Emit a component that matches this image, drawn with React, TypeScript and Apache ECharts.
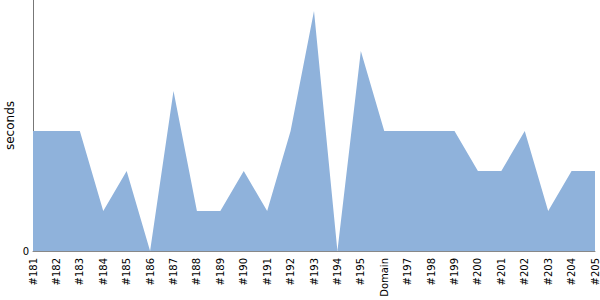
import React, { useEffect, useRef } from "react";
import * as echarts from "echarts";

const categories = ["#181","#182","#183","#184","#185","#186","#187","#188","#189","#190","#191","#192","#193","#194","#195","Domain","#197","#198","#199","#200","#201","#202","#203","#204","#205"];
const seconds = [3,3,3,1,2,0,4,1,1,2,1,3,6,0,5,3,3,3,3,2,2,3,1,2,2];

export default function App() {
  const ref = useRef<HTMLDivElement>(null);
  useEffect(() => {
    const chart = echarts.init(ref.current!, null, { renderer: "svg" });
    chart.setOption({
      animation: false,
      grid: { left: 33, right: 5, top: 0, bottom: 49, containLabel: false, outerBoundsMode: "none" },
      xAxis: {
        type: "category",
        data: categories,
        boundaryGap: false,
        axisLine: { lineStyle: { color: "#888" } },
        axisTick: { show: false },
        axisLabel: { rotate: 90, interval: 0, color: "#000", fontFamily: "DejaVu Sans", fontSize: 10, margin: 7 },
      },
      yAxis: {
        type: "value",
        min: 0,
        max: 6.275,
        interval: 10,
        name: "seconds",
        nameLocation: "middle",
        nameGap: 17,
        nameMoveOverlap: false,
        nameTextStyle: { color: "#000", fontFamily: "DejaVu Sans", fontSize: 12 },
        axisLine: { show: true, lineStyle: { color: "#777" } },
        axisTick: { show: false },
        splitLine: { show: false },
        axisLabel: { color: "#000", fontFamily: "DejaVu Sans", fontSize: 10, margin: 4, formatter: (v: number) => (v === 0 ? "0" : "") },
      },
      series: [
        {
          type: "line",
          data: seconds,
          symbol: "none",
          lineStyle: { width: 0 },
          areaStyle: { color: "#8fb2db", opacity: 1 },
        },
      ],
    });
    return () => chart.dispose();
  }, []);
  return <div ref={ref} style={{ width: 600, height: 300, position: "absolute", left: 0, top: 0 }} />;
}
